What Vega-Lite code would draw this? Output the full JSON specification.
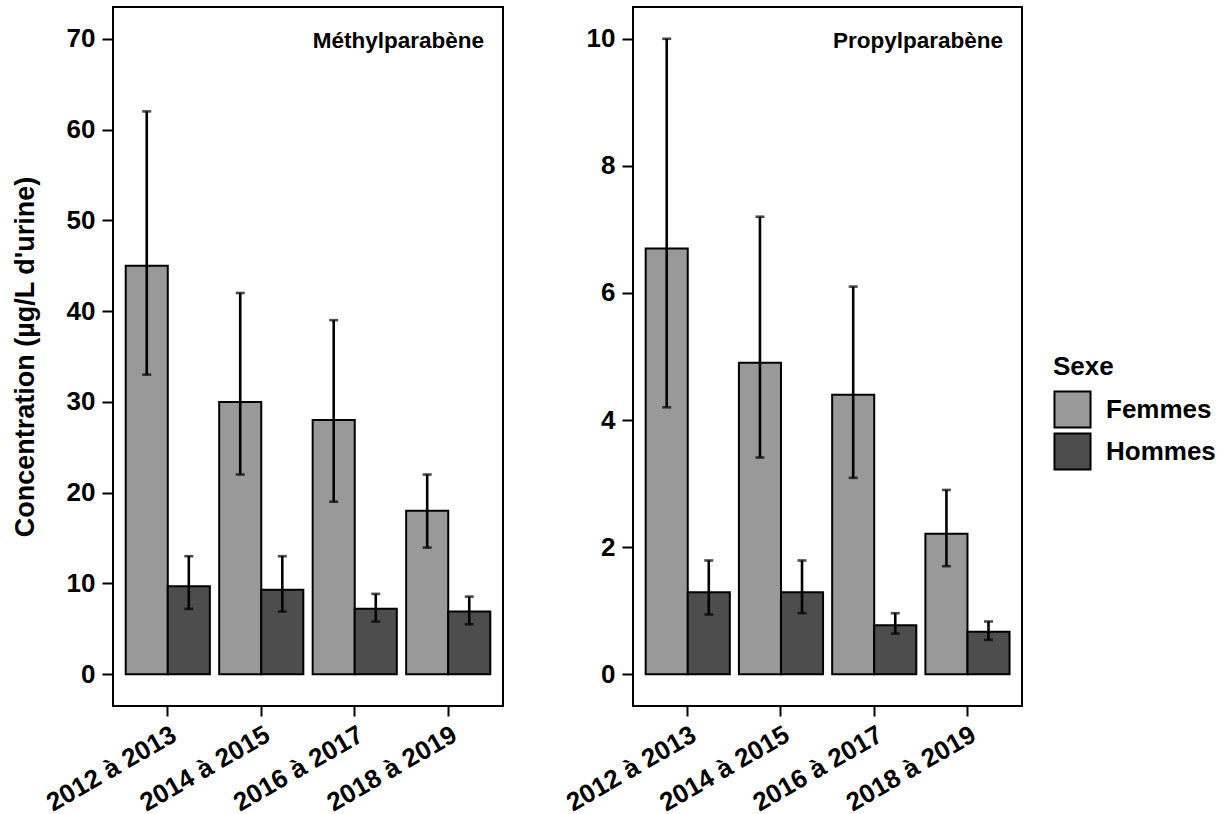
{
  "$schema": "https://vega.github.io/schema/vega-lite/v6.json",
  "padding": {"left": 10, "top": 6, "right": 0, "bottom": 0},
  "background": "white",
  "datasets": {
    "d": [
      {"panel": "Méthylparabène", "periode": "2012 à 2013", "sexe": "Femmes", "valeur": 45, "bas": 33, "haut": 62},
      {"panel": "Méthylparabène", "periode": "2012 à 2013", "sexe": "Hommes", "valeur": 9.7, "bas": 7.2, "haut": 13},
      {"panel": "Méthylparabène", "periode": "2014 à 2015", "sexe": "Femmes", "valeur": 30, "bas": 22, "haut": 42},
      {"panel": "Méthylparabène", "periode": "2014 à 2015", "sexe": "Hommes", "valeur": 9.3, "bas": 6.9, "haut": 13},
      {"panel": "Méthylparabène", "periode": "2016 à 2017", "sexe": "Femmes", "valeur": 28, "bas": 19, "haut": 39},
      {"panel": "Méthylparabène", "periode": "2016 à 2017", "sexe": "Hommes", "valeur": 7.2, "bas": 5.8, "haut": 8.85},
      {"panel": "Méthylparabène", "periode": "2018 à 2019", "sexe": "Femmes", "valeur": 18, "bas": 13.95, "haut": 22},
      {"panel": "Méthylparabène", "periode": "2018 à 2019", "sexe": "Hommes", "valeur": 6.9, "bas": 5.5, "haut": 8.55},
      {"panel": "Propylparabène", "periode": "2012 à 2013", "sexe": "Femmes", "valeur": 6.7, "bas": 4.2, "haut": 10},
      {"panel": "Propylparabène", "periode": "2012 à 2013", "sexe": "Hommes", "valeur": 1.29, "bas": 0.94, "haut": 1.79},
      {"panel": "Propylparabène", "periode": "2014 à 2015", "sexe": "Femmes", "valeur": 4.9, "bas": 3.41, "haut": 7.2},
      {"panel": "Propylparabène", "periode": "2014 à 2015", "sexe": "Hommes", "valeur": 1.29, "bas": 0.96, "haut": 1.79},
      {"panel": "Propylparabène", "periode": "2016 à 2017", "sexe": "Femmes", "valeur": 4.4, "bas": 3.09, "haut": 6.1},
      {"panel": "Propylparabène", "periode": "2016 à 2017", "sexe": "Hommes", "valeur": 0.77, "bas": 0.64, "haut": 0.96},
      {"panel": "Propylparabène", "periode": "2018 à 2019", "sexe": "Femmes", "valeur": 2.21, "bas": 1.7, "haut": 2.9},
      {"panel": "Propylparabène", "periode": "2018 à 2019", "sexe": "Hommes", "valeur": 0.67, "bas": 0.54, "haut": 0.83}
    ]
  },
  "config": {
    "font": "Liberation Sans",
    "view": {"stroke": "black", "strokeWidth": 2},
    "axis": {
      "grid": false,
      "domain": false,
      "labelFont": "Liberation Sans",
      "labelFontWeight": "bold",
      "labelFontSize": 26,
      "labelColor": "black",
      "tickColor": "black",
      "tickWidth": 2,
      "titleFont": "Liberation Sans",
      "titleFontWeight": "bold",
      "titleColor": "black"
    },
    "legend": {
      "titleFont": "Liberation Sans",
      "titleFontWeight": "bold",
      "titleFontSize": 26,
      "titleColor": "black",
      "labelFont": "Liberation Sans",
      "labelFontWeight": "bold",
      "labelFontSize": 26,
      "labelColor": "black"
    }
  },
  "resolve": {"scale": {"x": "independent", "y": "independent", "color": "shared"}, "legend": {"color": "shared"}},
  "spacing": 56,
  "hconcat": [
    {
      "width": 390,
      "height": 699,
      "data": {"name": "d"},
      "transform": [{"filter": "datum.panel === 'Méthylparabène'"}],
      "title": {"text": "Méthylparabène", "anchor": "end", "orient": "top", "offset": -63, "dx": -19, "fontSize": 22.5, "font": "Liberation Sans", "fontWeight": "bold", "color": "black", "baseline": "alphabetic"},
      "encoding": {
        "x": {"field": "periode", "type": "nominal", "sort": null, "title": null,
              "scale": {"paddingInner": 0.1, "paddingOuter": 0.136},
              "axis": {"labelAngle": -30, "labelAlign": "right", "labelBaseline": "top", "labelPadding": 5, "tickSize": 10}},
        "xOffset": {"field": "sexe", "type": "nominal", "sort": ["Femmes", "Hommes"], "scale": {"paddingInner": 0, "paddingOuter": 0}}
      },
      "layer": [
        {
          "mark": {"type": "bar", "stroke": "black", "strokeWidth": 2},
          "encoding": {
            "y": {"field": "valeur", "type": "quantitative", "title": "Concentration (µg/L d'urine)",
                  "scale": {"domain": [-3.5, 73.5], "nice": false, "zero": false},
                  "axis": {"values": [0, 10, 20, 30, 40, 50, 60, 70], "format": "d", "tickSize": 11, "labelPadding": 7, "titleFontSize": 27, "titlePadding": 27}},
            "y2": {"datum": 0},
            "color": {"field": "sexe", "type": "nominal", "title": "Sexe",
                      "scale": {"domain": ["Femmes", "Hommes"], "range": ["#999999", "#4d4d4d"]},
                      "legend": {"orient": "none", "legendX": 940, "legendY": 347, "symbolType": "square", "symbolSize": 1300, "symbolStrokeColor": "black", "symbolStrokeWidth": 2, "symbolOpacity": 1, "labelOffset": 14, "rowPadding": -5, "titlePadding": 10}}
          }
        },
        {
          "mark": {"type": "rule", "color": "black", "strokeWidth": 2.6},
          "encoding": {"y": {"field": "bas", "type": "quantitative"}, "y2": {"field": "haut"}}
        },
        {
          "mark": {"type": "tick", "color": "black", "size": 9, "thickness": 2.6},
          "encoding": {"y": {"field": "bas", "type": "quantitative"}}
        },
        {
          "mark": {"type": "tick", "color": "black", "size": 9, "thickness": 2.6},
          "encoding": {"y": {"field": "haut", "type": "quantitative"}}
        }
      ]
    },
    {
      "width": 389,
      "height": 699,
      "data": {"name": "d"},
      "transform": [{"filter": "datum.panel === 'Propylparabène'"}],
      "title": {"text": "Propylparabène", "anchor": "end", "orient": "top", "offset": -63, "dx": -19, "fontSize": 22.5, "font": "Liberation Sans", "fontWeight": "bold", "color": "black", "baseline": "alphabetic"},
      "encoding": {
        "x": {"field": "periode", "type": "nominal", "sort": null, "title": null,
              "scale": {"paddingInner": 0.1, "paddingOuter": 0.136},
              "axis": {"labelAngle": -30, "labelAlign": "right", "labelBaseline": "top", "labelPadding": 5, "tickSize": 10}},
        "xOffset": {"field": "sexe", "type": "nominal", "sort": ["Femmes", "Hommes"], "scale": {"paddingInner": 0, "paddingOuter": 0}}
      },
      "layer": [
        {
          "mark": {"type": "bar", "stroke": "black", "strokeWidth": 2},
          "encoding": {
            "y": {"field": "valeur", "type": "quantitative", "title": null,
                  "scale": {"domain": [-0.5, 10.5], "nice": false, "zero": false},
                  "axis": {"values": [0, 2, 4, 6, 8, 10], "format": "d", "tickSize": 11, "labelPadding": 7}},
            "y2": {"datum": 0},
            "color": {"field": "sexe", "type": "nominal", "title": "Sexe",
                      "scale": {"domain": ["Femmes", "Hommes"], "range": ["#999999", "#4d4d4d"]}}
          }
        },
        {
          "mark": {"type": "rule", "color": "black", "strokeWidth": 2.6},
          "encoding": {"y": {"field": "bas", "type": "quantitative"}, "y2": {"field": "haut"}}
        },
        {
          "mark": {"type": "tick", "color": "black", "size": 9, "thickness": 2.6},
          "encoding": {"y": {"field": "bas", "type": "quantitative"}}
        },
        {
          "mark": {"type": "tick", "color": "black", "size": 9, "thickness": 2.6},
          "encoding": {"y": {"field": "haut", "type": "quantitative"}}
        }
      ]
    }
  ]
}
